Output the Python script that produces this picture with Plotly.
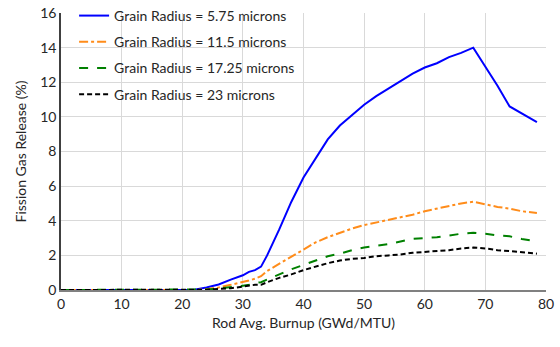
import plotly.graph_objects as go

# Rod average burnup (GWd/MTU)
burnup = [0, 2, 4, 6, 8, 10, 12, 14, 16, 18, 20, 22, 24, 26, 28, 30, 31, 32, 33, 34,
          36, 38, 40, 42, 44, 46, 48, 50, 52, 54, 56, 58, 60, 62, 64, 66, 68, 70,
          72, 74, 76, 78.5]

# Fission gas release (%) for each grain radius
fgr_5_75 = [0, 0, 0, 0, 0, 0, 0, 0, 0, 0, 0, 0.02, 0.15, 0.32, 0.6, 0.85, 1.05, 1.15, 1.35, 2.0,
            3.5, 5.1, 6.5, 7.6, 8.7, 9.5, 10.1, 10.7, 11.2, 11.65, 12.05, 12.5, 12.85, 13.1,
            13.45, 13.7, 14.0, 12.9, 11.8, 10.6, 10.2, 9.7]
fgr_11_5 = [0, 0, 0, 0, 0, 0, 0, 0, 0, 0, 0, 0, 0.05, 0.15, 0.3, 0.45, 0.55, 0.65, 0.8, 1.1,
            1.5, 1.95, 2.35, 2.75, 3.05, 3.3, 3.55, 3.75, 3.9, 4.05, 4.2, 4.35, 4.55, 4.7,
            4.85, 5.0, 5.1, 4.95, 4.8, 4.7, 4.55, 4.45]
fgr_17_25 = [0, 0, 0, 0, 0, 0, 0, 0, 0, 0, 0, 0, 0.03, 0.08, 0.15, 0.25, 0.3, 0.4, 0.45, 0.6,
             0.9, 1.2, 1.45, 1.7, 1.95, 2.1, 2.3, 2.45, 2.55, 2.65, 2.8, 2.95, 3.0, 3.05,
             3.15, 3.25, 3.3, 3.25, 3.15, 3.1, 2.95, 2.8]
fgr_23 = [0, 0, 0, 0, 0, 0, 0, 0, 0, 0, 0, 0, 0.02, 0.06, 0.1, 0.2, 0.25, 0.3, 0.3, 0.45,
          0.7, 0.9, 1.15, 1.35, 1.55, 1.7, 1.8, 1.85, 1.95, 2.0, 2.05, 2.15, 2.2, 2.25,
          2.3, 2.4, 2.45, 2.4, 2.3, 2.25, 2.2, 2.1]

series = [
    ("Grain Radius = 5.75 microns", fgr_5_75, "#0000ff", "solid"),
    ("Grain Radius = 11.5 microns", fgr_11_5, "#ff8c1a", "dashdot"),
    ("Grain Radius = 17.25 microns", fgr_17_25, "#008000", "dash"),
    ("Grain Radius = 23 microns", fgr_23, "#000000", "5px,3px"),
]

fig = go.Figure()
for i, (name, vals, color, dash) in enumerate(series):
    fig.add_trace(go.Scatter(
        x=burnup, y=vals, mode="lines", name=name, legendgroup=f"g{i}",
        line=dict(color=color, width=2, dash=dash),
    ))

font = "Lato, Open Sans, sans-serif"
fig.update_layout(
    width=560, height=347,
    margin=dict(l=61, r=14, t=13, b=57, autoexpand=False),
    paper_bgcolor="white", plot_bgcolor="white",
    font=dict(family=font, size=14, color="#262626"),
    showlegend=True,
    legend=dict(
        x=0.027, xanchor="left",
        y=1.047, yanchor="top",
        bgcolor="rgba(255,255,255,0)", font=dict(size=14, color="#262626"),
        tracegroupgap=5, itemwidth=30,
    ),
    xaxis=dict(
        range=[0, 80], dtick=10, showgrid=True, gridcolor="#d9d9d9",
        showline=True, linecolor="#808080", linewidth=1.5, zeroline=False,
        automargin=False,
        ticks="", title=dict(text="Rod Avg. Burnup (GWd/MTU)", font=dict(size=14), standoff=8),
        tickfont=dict(size=14),
    ),
    yaxis=dict(
        range=[0, 16], dtick=2, showgrid=True, gridcolor="#d9d9d9",
        showline=True, linecolor="#404040", linewidth=1.5, zeroline=False,
        automargin=False,
        ticks="", title=dict(text="Fission Gas Release (%)", font=dict(size=14), standoff=10),
        tickfont=dict(size=14),
    ),
)

# White panel behind the legend, hiding the gridlines it overlaps
fig.add_shape(type="rect", xref="paper", yref="paper",
              x0=0.014, x1=0.497, y0=0.671, y1=1.0,
              fillcolor="white", line=dict(width=0), layer="between")

fig.write_html("out.html")
